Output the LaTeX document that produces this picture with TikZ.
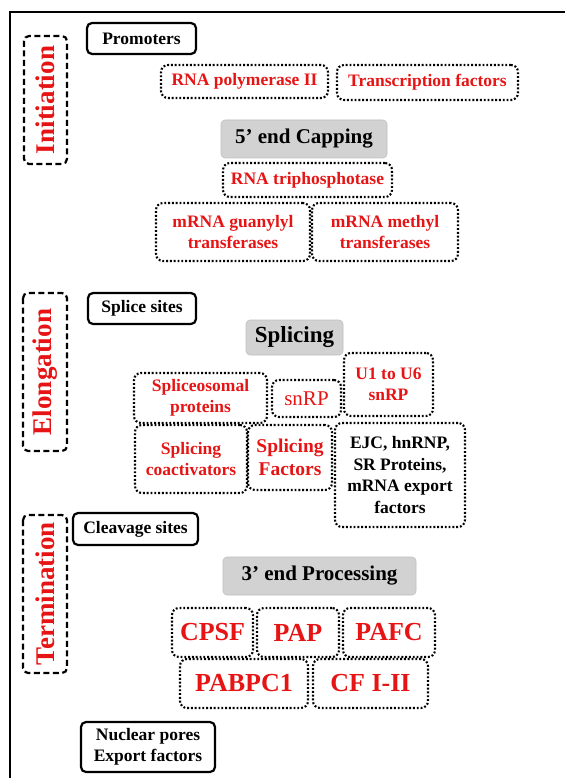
\documentclass[tikz,border=0pt]{standalone}
\usepackage{fontspec}
\setmainfont{Liberation Serif}
\usepackage{xcolor}
\usepackage{tikz}
\usetikzlibrary{positioning}

\definecolor{lblred}{RGB}{230,20,20}
\definecolor{hdgray}{RGB}{210,210,210}

\begin{document}
\begin{tikzpicture}[x=1pt, y=-1pt,
  every node/.style={font=\fontsize{17.5}{21.5}\selectfont\bfseries, align=center, inner sep=2pt},
  wh/.style 2 args={minimum width=#1, minimum height=#2},
  stage/.style={rectangle, rounded corners=5, draw=black, line width=2.2pt,
    dash pattern=on 6pt off 3.5pt, text=lblred, rotate=90,
    font=\fontsize{27}{30}\selectfont\bfseries},
  site/.style={rectangle, rounded corners=5, draw=black, line width=2.2pt},
  prot/.style={rectangle, rounded corners=7, draw=black, line width=2.1pt,
    dash pattern=on 1.9pt off 1.9pt, text=lblred},
  protb/.style={prot, text=black},
  big/.style={prot, font=\fontsize{26}{30}\selectfont\bfseries},
  proc/.style={rectangle, rounded corners=4, fill=hdgray, draw=black!25, line width=0.6pt,
    font=\fontsize{21}{24}\selectfont\bfseries}
]
\useasboundingbox (0,0) rectangle (565,778);
\draw[line width=2.5pt] (10,778) -- (10,12) -- (565,12);

% stages
\node[stage, wh={128}{43}] (init) at (45.5,100) {Initiation};
\node[stage, wh={158}{44}] (elong) at (45,372) {Elongation};
\node[stage, wh={158}{44}] (term) at (45,594) {Termination};

% initiation
\node[site, wh={109}{31}] (prom) at (141.5,38.5) {Promoters};
\node[prot, wh={167}{33}] (pol) at (244.5,81.5) {RNA polymerase II};
\node[prot, wh={181}{35}] (tf) at (427.5,82.5) {Transcription factors};
\node[proc, wh={166}{38}] (cap) at (304,139) {5’ end Capping};
\node[prot, wh={169}{34}] (tripho) at (307.5,180) {RNA triphosphotase};
\node[prot, wh={154}{58}] (guan) at (233,232) {mRNA guanylyl\\transferases};
\node[prot, wh={146}{58}] (meth) at (385,232) {mRNA methyl\\transferases};

% elongation
\node[site, wh={108}{31}] (ssites) at (142,308.5) {Splice sites};
\node[proc, wh={97}{35}, font=\fontsize{23}{26}\selectfont\bfseries] (splic) at (294.5,337.5) {Splicing};
\node[prot, wh={89}{63}] (u16) at (388.5,384.5) {U1 to U6\\snRP};
\node[prot, wh={133}{50}] (sposom) at (200.5,398) {Spliceosomal\\proteins};
\node[prot, wh={69}{37}, font=\fontsize{21}{24}\selectfont\mdseries] (snrp) at (306.5,398.5) {snRP};
\node[prot, wh={112}{68}] (scoact) at (191,459) {Splicing\\coactivators};
\node[prot, wh={84}{65}, font=\fontsize{19.5}{23}\selectfont\bfseries] (sfact) at (290,457.5) {Splicing\\Factors};
\node[protb, wh={130}{104}] (ejc) at (400,475) {EJC, hnRNP,\\SR Proteins,\\mRNA export\\factors};

% termination
\node[site, wh={125}{32}] (cleav) at (135.5,529) {Cleavage sites};
\node[proc, wh={193}{38}] (proc3) at (319.5,576) {3’ end Processing};
\node[big, wh={81}{49}] (cpsf) at (212.5,632.5) {CPSF};
\node[big, wh={82}{49}] (pap) at (298,632.5) {PAP};
\node[big, wh={92}{49}] (pafc) at (389,632.5) {PAFC};
\node[big, wh={128}{49}] (pabp) at (244,683.5) {PABPC1};
\node[big, wh={115}{49}] (cf) at (370.5,683.5) {CF I-II};
\node[site, wh={134}{50}] (pores) at (148,747) {Nuclear pores\\Export factors};
\end{tikzpicture}
\end{document}
